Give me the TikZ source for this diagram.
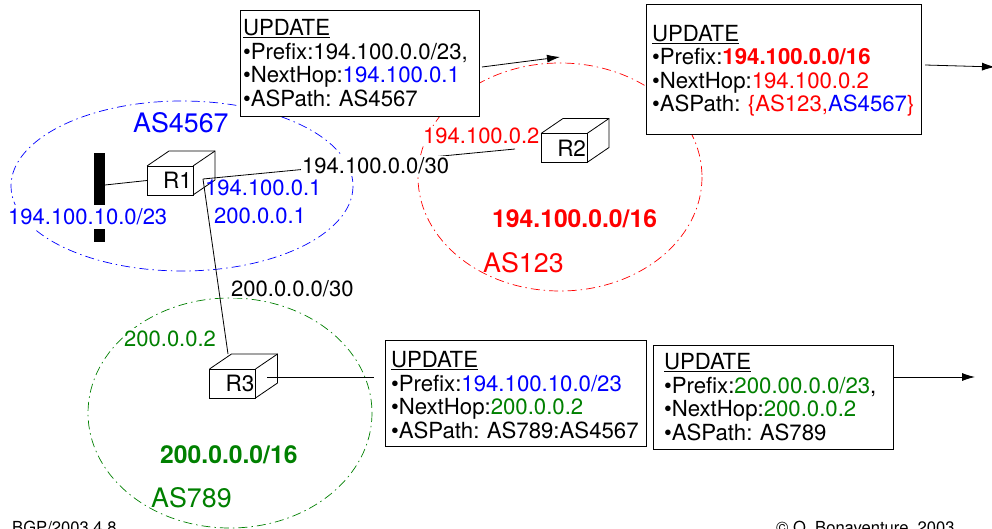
\documentclass[tikz,border=0pt]{standalone}
\usepackage{fontspec}
\setmainfont{TeX Gyre Heros}
\usetikzlibrary{arrows.meta}
\definecolor{asblue}{RGB}{0,0,255}
\definecolor{asred}{RGB}{255,0,0}
\definecolor{asgreen}{RGB}{0,128,0}
\newcommand{\fs}[1]{\fontsize{#1}{#1}\selectfont}
\frenchspacing
\tikzset{
  x=1pt,y=-1pt,
  asring/.style={line width=0.7pt,dash pattern=on 9pt off 4pt on 1.5pt off 4pt},
  addr/.style={anchor=base west,inner sep=0pt,font=\fs{22}},
  addrfill/.style={addr,fill=white,inner xsep=1pt,inner ysep=2pt,xshift=-1pt},
  asname/.style={anchor=base west,inner sep=0pt,font=\fs{26.8}},
  prefixlabel/.style={anchor=base west,inner sep=0pt,font=\fs{24.7}\bfseries},
  msgbox/.style={draw=black,line width=0.9pt,fill=white,anchor=north west,outer sep=0pt,inner ysep=0pt,align=left,font=\fs{22.2}\setlength{\baselineskip}{23.5pt}},
  router/.style={draw=black,line width=0.8pt,minimum width=46pt,minimum height=29pt,inner sep=1pt,text width=44pt,align=right,font=\fs{22.5},outer sep=0pt},
  link/.style={line width=0.8pt},
  flow/.style={line width=0.8pt,-{Latex[length=13pt,width=8pt]}},
  foot/.style={anchor=base west,inner sep=0pt,font=\fs{16.6}}
}
\newcommand{\cube}[4]{%
  \node[router] (#1) at (#2,#3) {#4};
  \draw[link] (#1.north west) -- ++(22,-15) -- ++(46,0) -- ++(0,29) -- (#1.south east);
  \draw[link] (#1.north east) -- ++(22,-15);
}
\begin{document}
\begin{tikzpicture}
\useasboundingbox (0,0) rectangle (992,529);
\fill[white] (0,0) rectangle (992,529);

% AS rings
\draw[asring,asblue] (182,186) ellipse [x radius=171,y radius=85];
\draw[asring,asred] (560,177) ellipse [x radius=142,y radius=114];
\draw[asring,asgreen] (230,413) ellipse [x radius=142,y radius=115];

% LAN bar
\node[fill=black,minimum width=11pt,minimum height=89pt,inner sep=0pt,outer sep=0pt] (bar) at (99.5,197.5) {};

% routers
\cube{R1}{170}{180.5}{R1}
\cube{R2}{564}{148}{R2}
\cube{R3}{232.5}{383.5}{R3}

\coordinate (barport) at (105,185);
\coordinate (r1port) at (203,179);
\coordinate (r2port) at (515,149);
\coordinate (r3top) at (228,354);
\coordinate (r3port) at (267,377);

% links
\draw[link] (barport) -- (R1.west);
\draw[link] (r1port) -- (r2port);
\draw[link] (r1port) -- (r3top);

% address labels
\node[addrfill,inner ysep=4pt,text=asblue] (lan) at (8,225) {194.100.10.0/23};
\node[addr,text=asblue] (r1a) at (205,196) {194.100.0.1};
\node[addr,text=asblue] (r1b) at (214,224) {200.0.0.1};
\node[addrfill] (net12) at (302,174) {194.100.0.0/30};
\node[addrfill,text=asred] (r2a) at (423,144) {194.100.0.2};
\node[addrfill] (net13) at (231,296) {200.0.0.0/30};
\node[addrfill,text=asgreen] (r3a) at (124,346) {200.0.0.2};

% AS names and prefixes
\node[asname,text=asblue] (as4567) at (133,133) {AS4567};
\node[asname,fill=white,inner xsep=0.5pt,xshift=-0.5pt,text=asred] (as123) at (483,272) {AS123};
\node[asname,fill=white,inner xsep=0.5pt,xshift=-0.5pt,text=asgreen] (as789) at (151,507) {AS789};
\node[prefixlabel,text=asred] (p123) at (492,228) {194.100.0.0/16};
\node[prefixlabel,text=asgreen] (p789) at (160,463) {200.0.0.0/16};

% UPDATE boxes
\node[msgbox,minimum width=239pt,minimum height=106pt,text width=233pt,inner xsep=3pt] (u1) at (240,10) {\underline{UPDATE}\\
•Prefix:194.100.0.0/23,\\
•NextHop:\textcolor{asblue}{194.100.0.1}\\
•ASPath:~AS4567};
\node[msgbox,minimum width=275pt,minimum height=130pt,text width=263pt,inner xsep=6pt] (u2) at (646,4) {\rule{0pt}{20pt}\underline{UPDATE}\\
•Prefix:\textcolor{asred}{\textbf{194.100.0.0/16}}\\
•NextHop:\textcolor{asred}{194.100.0.2}\\
•ASPath:~\textcolor{asred}{\{AS123,}\textcolor{asblue}{AS4567}\textcolor{asred}{\}}};
\node[msgbox,minimum width=261pt,minimum height=106pt,text width=249pt,inner xsep=6pt] (u3) at (385,340) {\rule{0pt}{20pt}\underline{UPDATE}\\
•Prefix:\textcolor{asblue}{194.100.10.0/23}\\
•NextHop:\textcolor{asgreen}{200.0.0.2}\\
•ASPath:~AS789:AS4567};
\node[msgbox,minimum width=240pt,minimum height=104pt,text width=218pt,inner xsep=11pt] (u4) at (653,345) {\underline{UPDATE}\\
•Prefix:\textcolor{asgreen}{200.00.0.0/23},\\
•NextHop:\textcolor{asgreen}{200.0.0.2}\\
•ASPath:~AS789};

% flows
\coordinate (u1out) at (482,67);
\coordinate (u1tip) at (560,57);
\coordinate (u2out) at (925,65);
\coordinate (u2tip) at (995,67);
\coordinate (u3in) at (374,377);
\coordinate (u4tip) at (975,377);
\draw[flow] (u1out) -- (u1tip);
\draw[flow] (u2out) -- (u2tip);
\draw[link] (r3port) -- (u3in);
\draw[flow] (u4.east |- u4tip) -- (u4tip);

% footer
\node[foot] (fl) at (12,533) {BGP/2003.4.8};
\node[foot] (fr) at (776,533) {© O. Bonaventure, 2003};
\end{tikzpicture}
\end{document}
